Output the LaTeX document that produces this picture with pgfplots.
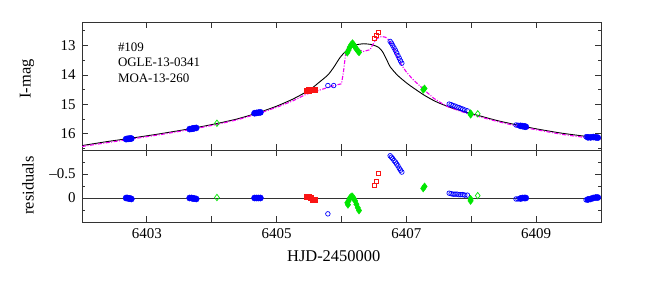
\documentclass[border=0pt]{standalone}
\usepackage{pgfplots}
\pgfplotsset{compat=1.18}
\usepackage{fontspec}
\setmainfont{Liberation Serif}
\definecolor{mblue}{RGB}{0,0,255}
\definecolor{mred}{RGB}{250,20,20}
\definecolor{mgreen}{RGB}{0,230,0}
\definecolor{mmag}{RGB}{240,0,240}
\pgfplotsset{
  panel/.style={
    scale only axis, width=519bp,
    xmin=6402, xmax=6410,
    xtick={6402,...,6410}, minor x tick num=3,
    tick align=inside, major tick length=6bp, minor tick length=3bp,
    axis line style={line width=0.9bp, black!80},
    every tick/.style={line width=0.8bp, black!80},
    /pgf/number format/assume math mode=true,
    tick label style={font=\fontsize{15}{17}\selectfont},
    xticklabel style={yshift=-3bp},
    yticklabel style={xshift=-3bp},
    label style={font=\fontsize{16.5}{19}\selectfont},
    y dir=reverse,
  },
  ogle/.style={only marks, mark=*, mark size=3.1bp, color=mblue},
  moa/.style={only marks, mark=o, mark size=2.3bp, color=mblue, mark options={line width=0.7bp}},
  redf/.style={only marks, mark=square*, mark size=2.6bp, color=mred},
  redo/.style={only marks, mark=square, mark size=2bp, color=mred, mark options={line width=0.6bp}},
  greenf/.style={only marks, mark=diamond*, mark size=3.6bp, color=mgreen},
  greeno/.style={only marks, mark=diamond, mark size=3.2bp, color=mgreen, mark options={line width=0.7bp}},
}
\begin{document}
\begin{tikzpicture}
\useasboundingbox (0,0) rectangle (664bp,285bp);
% ---------------- top panel ----------------
\begin{axis}[panel, at={(82bp,135bp)}, anchor=south west, height=128bp,
  ymin=12.2, ymax=16.55, ytick={13,14,15,16}, minor ytick={12.5,13.5,14.5,15.5,16.5},
  xticklabels={},
  ylabel={I-mag},
  ylabel style={at={(axis description cs:-0.106,0.555)}, anchor=center},
]
% black model
\addplot[black, line width=0.9bp, smooth, tension=0.4] coordinates {
(6402.0,16.40) (6402.4,16.26) (6402.72,16.16) (6403.2,16.00) (6403.71,15.81)
(6404.08,15.65) (6404.4,15.49) (6404.72,15.28) (6405.0,15.06) (6405.25,14.82)
(6405.5,14.52) (6405.65,14.26) (6405.79,14.00) (6405.88,13.74) (6405.98,13.40)
(6406.09,13.14) (6406.2,12.99) (6406.34,12.94) (6406.47,12.97) (6406.57,13.06)
(6406.63,13.20) (6406.69,13.45) (6406.75,13.72) (6406.85,13.98) (6406.93,14.14)
(6407.05,14.35) (6407.27,14.68) (6407.45,14.90) (6407.66,15.09) (6407.94,15.28)
(6408.1,15.37) (6408.4,15.55) (6408.75,15.72) (6409.0,15.83) (6409.4,15.98)
(6409.85,16.11) (6410.0,16.15)};
% magenta model
\addplot[mmag, line width=1.1bp, dash pattern=on 4bp off 1.5bp on 1bp off 1.5bp] coordinates {
(6402.0,16.43) (6402.72,16.19) (6403.2,16.03) (6403.71,15.84) (6404.08,15.68) (6404.4,15.52)
(6404.72,15.31) (6405.0,15.10) (6405.25,14.88) (6405.45,14.66) (6405.6,14.56)
(6405.78,14.43) (6405.9,14.35) (6406.0,14.30) (6406.03,13.90) (6406.06,13.35)
(6406.09,13.08) (6406.16,12.92) (6406.24,13.13) (6406.34,13.20) (6406.44,13.14)
(6406.5,12.90) (6406.55,12.76) (6406.62,12.69) (6406.68,12.72) (6406.73,12.81)
(6406.8,13.08) (6406.86,13.40) (6406.93,13.68) (6407.0,13.90) (6407.1,14.15)
(6407.27,14.50) (6407.42,14.79) (6407.55,14.97) (6407.66,15.10) (6407.94,15.31)
(6408.4,15.58) (6408.75,15.76) (6409.0,15.86) (6409.4,16.02) (6409.85,16.15) (6410.0,16.18)};
% data
\addplot[ogle] coordinates {
(6402.68,16.18) (6402.70,16.17) (6402.72,16.17) (6402.74,16.16) (6402.76,16.16)
(6403.66,15.84) (6403.69,15.83) (6403.71,15.82) (6403.73,15.81) (6403.76,15.80)
(6404.66,15.30) (6404.69,15.29) (6404.72,15.28) (6404.75,15.27)
(6408.76,15.73) (6408.79,15.74) (6408.82,15.75) (6408.84,15.76)
(6409.80,16.12) (6409.84,16.12) (6409.88,16.11) (6409.92,16.12) (6409.95,16.13)};
\addplot[moa] coordinates {
(6405.79,14.36) (6405.88,14.36)
(6406.75,12.86) (6406.77,12.92) (6406.79,13.00) (6406.81,13.08) (6406.83,13.16)
(6406.85,13.25) (6406.87,13.34) (6406.89,13.43) (6406.91,13.52) (6406.93,13.60)
(6407.66,14.99) (6407.69,15.01) (6407.72,15.04) (6407.75,15.06) (6407.78,15.09)
(6407.81,15.11) (6407.84,15.14) (6407.87,15.16) (6407.90,15.19) (6407.94,15.22)
(6408.69,15.70) (6408.72,15.71) (6408.75,15.72)
(6409.77,16.10) (6409.79,16.11)};
\addplot[redf] coordinates {
(6405.47,14.54) (6405.50,14.52) (6405.53,14.51) (6405.56,14.50) (6405.58,14.49)};
\addplot[redo] coordinates {
(6406.50,12.75) (6406.53,12.66) (6406.57,12.56)};
\addplot[greenf] coordinates {
(6406.09,13.24) (6406.11,13.15) (6406.13,13.05) (6406.15,12.97) (6406.17,12.92)
(6406.19,12.98) (6406.21,13.05) (6406.23,13.12) (6406.25,13.18) (6406.27,13.23)
(6407.26,14.50) (6407.28,14.46)
(6407.99,15.30) (6407.99,15.35)};
\addplot[greeno] coordinates {
(6404.08,15.64) (6408.10,15.32)};
\node[anchor=base west, inner sep=0, font=\fontsize{13}{15}\selectfont] at (axis description cs:0.069,0.768) {\#109};
\node[anchor=base west, inner sep=0, font=\fontsize{13}{15}\selectfont] at (axis description cs:0.069,0.651) {OGLE-13-0341};
\node[anchor=base west, inner sep=0, font=\fontsize{13}{15}\selectfont] at (axis description cs:0.069,0.529) {MOA-13-260};
\end{axis}
% ---------------- residual panel ----------------
\begin{axis}[panel, at={(82bp,63bp)}, anchor=south west, height=72bp,
  ymin=-1, ymax=0.5, ytick={-0.5,0}, yticklabels={\textendash0.5,0},
  minor ytick={-0.75,-0.25,0.25},
  xticklabels={,6403,,6405,,6407,,6409,},
  xlabel={HJD-2450000},
  xlabel style={at={(axis description cs:0.485,-0.47)}, anchor=center},
  ylabel={residuals},
  ylabel style={at={(axis description cs:-0.104,0.51)}, anchor=center},
]
\addplot[black!80, line width=0.8bp] coordinates {(6402,0) (6410,0)};
\addplot[ogle] coordinates {
(6402.68,0.00) (6402.70,0.00) (6402.72,0.01) (6402.74,0.01) (6402.76,0.02)
(6403.66,0.00) (6403.69,0.00) (6403.71,0.01) (6403.73,0.01) (6403.76,0.02)
(6404.66,0.00) (6404.69,0.00) (6404.72,0.00) (6404.75,0.00)
(6408.76,0.01) (6408.79,0.00) (6408.82,0.00) (6408.84,0.00)
(6409.80,0.03) (6409.84,0.02) (6409.88,0.00) (6409.92,-0.01) (6409.95,-0.01)};
\addplot[moa] coordinates {
(6405.79,0.33)
(6406.75,-0.88) (6406.77,-0.85) (6406.79,-0.82) (6406.81,-0.78) (6406.83,-0.75)
(6406.85,-0.71) (6406.87,-0.67) (6406.89,-0.62) (6406.91,-0.58) (6406.93,-0.54)
(6407.66,-0.10) (6407.69,-0.09) (6407.72,-0.08) (6407.75,-0.08) (6407.78,-0.08)
(6407.81,-0.07) (6407.84,-0.07) (6407.87,-0.07) (6407.90,-0.06) (6407.94,-0.06)
(6408.69,0.02) (6408.72,0.02) (6408.75,0.01)
(6409.77,0.04) (6409.79,0.04)};
\addplot[redf] coordinates {
(6405.47,-0.03) (6405.50,-0.02) (6405.53,0.00) (6405.56,0.03) (6405.58,0.04)};
\addplot[redo] coordinates {
(6406.50,-0.26) (6406.53,-0.35) (6406.57,-0.52)};
\addplot[greenf] coordinates {
(6406.09,0.10) (6406.10,0.14) (6406.11,0.06) (6406.13,0.00) (6406.15,-0.03) (6406.17,-0.03)
(6406.19,0.01) (6406.21,0.06) (6406.23,0.13) (6406.25,0.20) (6406.27,0.26)
(6407.26,-0.20) (6407.28,-0.24)
(6407.99,0.02) (6407.99,0.06)};
\addplot[greeno] coordinates {
(6404.08,-0.01) (6408.10,-0.05)};
\end{axis}
\end{tikzpicture}
\end{document}
